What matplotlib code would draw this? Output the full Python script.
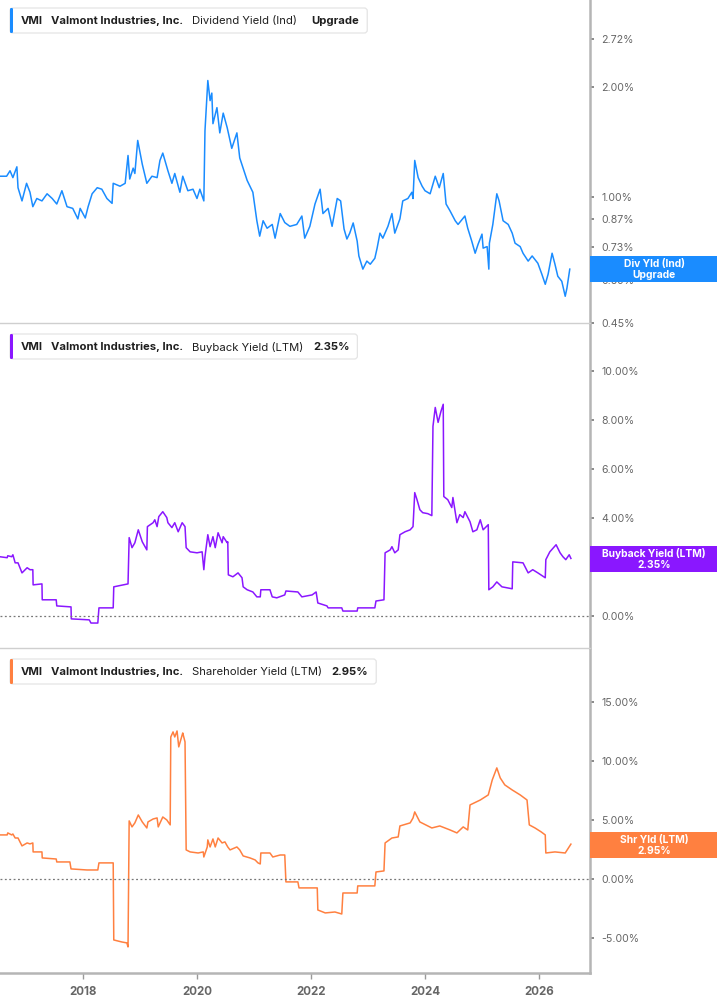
import matplotlib
matplotlib.use("Agg")
import matplotlib.pyplot as plt
from matplotlib.patches import FancyBboxPatch, Rectangle
from matplotlib.ticker import FixedLocator, NullLocator, FuncFormatter
from matplotlib.transforms import IdentityTransform

# ---------------- data (decimal years, percent) ----------------
div_years = [
    2016.54, 2016.66, 2016.72, 2016.77, 2016.84, 2016.86, 2016.93, 2017.01, 2017.07, 2017.12,
    2017.19, 2017.28, 2017.37, 2017.46, 2017.54, 2017.63, 2017.72, 2017.82, 2017.91, 2017.95,
    2018.04, 2018.09, 2018.16, 2018.25, 2018.33, 2018.42, 2018.51, 2018.53, 2018.65, 2018.74,
    2018.79, 2018.82, 2018.88, 2018.91, 2018.96, 2019.04, 2019.12, 2019.21, 2019.30, 2019.35,
    2019.40, 2019.49, 2019.56, 2019.61, 2019.70, 2019.75, 2019.84, 2019.93, 2020.00, 2020.05,
    2020.12, 2020.14, 2020.19, 2020.23, 2020.26, 2020.28, 2020.35, 2020.40, 2020.46, 2020.53,
    2020.61, 2020.70, 2020.75, 2020.88, 2020.98, 2021.05, 2021.10, 2021.16, 2021.23, 2021.32,
    2021.37, 2021.46, 2021.54, 2021.63, 2021.75, 2021.84, 2021.89, 2021.98, 2022.07, 2022.16,
    2022.21, 2022.30, 2022.37, 2022.46, 2022.52, 2022.58, 2022.63, 2022.68, 2022.74, 2022.81,
    2022.84, 2022.91, 2022.98, 2023.04, 2023.12, 2023.16, 2023.21, 2023.26, 2023.35, 2023.42,
    2023.47, 2023.56, 2023.61, 2023.70, 2023.77, 2023.79, 2023.82, 2023.88, 2023.95, 2024.00,
    2024.09, 2024.18, 2024.25, 2024.32, 2024.37, 2024.44, 2024.53, 2024.58, 2024.70, 2024.75,
    2024.82, 2024.88, 2024.93, 2025.00, 2025.02, 2025.09, 2025.12, 2025.13, 2025.19, 2025.26,
    2025.30, 2025.37, 2025.46, 2025.53, 2025.58, 2025.67, 2025.72, 2025.81, 2025.88, 2025.98,
    2026.05, 2026.11, 2026.16, 2026.23, 2026.28, 2026.33, 2026.40, 2026.46, 2026.49, 2026.54,
]
div_yield = [
    1.14, 1.14, 1.18, 1.13, 1.21, 1.06, 0.975, 1.09, 1.03, 0.94,
    0.99, 0.975, 1.02, 0.99, 0.956, 1.04, 0.94, 0.93, 0.87, 0.93,
    0.875, 0.94, 1.02, 1.06, 1.05, 0.99, 0.96, 1.09, 1.07, 1.09,
    1.30, 1.12, 1.20, 1.16, 1.43, 1.23, 1.09, 1.14, 1.13, 1.26,
    1.32, 1.18, 1.09, 1.16, 1.03, 1.14, 1.04, 1.05, 0.99, 1.05,
    0.975, 1.52, 2.09, 1.84, 1.93, 1.59, 1.76, 1.50, 1.70, 1.55,
    1.36, 1.50, 1.28, 1.11, 1.03, 0.86, 0.78, 0.86, 0.82, 0.84,
    0.77, 0.90, 0.85, 0.83, 0.84, 0.886, 0.77, 0.83, 0.956, 1.05,
    0.90, 0.93, 0.83, 0.99, 0.975, 0.816, 0.766, 0.795, 0.848, 0.756,
    0.688, 0.633, 0.666, 0.653, 0.678, 0.723, 0.795, 0.77, 0.83, 0.90,
    0.795, 0.87, 0.975, 0.99, 1.03, 0.99, 1.26, 1.13, 1.07, 1.04,
    1.02, 1.14, 1.06, 1.16, 0.956, 0.915, 0.86, 0.84, 0.886, 0.82,
    0.756, 0.70, 0.74, 0.79, 0.723, 0.73, 0.633, 0.746, 0.84, 1.02,
    0.975, 0.86, 0.84, 0.795, 0.746, 0.73, 0.70, 0.666, 0.688, 0.657,
    0.613, 0.575, 0.613, 0.70, 0.653, 0.605, 0.586, 0.533, 0.561, 0.633,
]

bb_years = [
    2016.54, 2016.67, 2016.68, 2016.75, 2016.77, 2016.81, 2016.86, 2016.93, 2017.02, 2017.07,
    2017.12, 2017.125, 2017.28, 2017.285, 2017.53, 2017.54, 2017.79, 2017.795, 2018.11, 2018.14,
    2018.26, 2018.28, 2018.53, 2018.54, 2018.79, 2018.81, 2018.86, 2018.91, 2018.97, 2019.04,
    2019.12, 2019.13, 2019.23, 2019.26, 2019.30, 2019.33, 2019.40, 2019.47, 2019.49, 2019.56,
    2019.61, 2019.67, 2019.74, 2019.79, 2019.81, 2019.88, 2020.00, 2020.09, 2020.12, 2020.14,
    2020.19, 2020.23, 2020.28, 2020.32, 2020.37, 2020.44, 2020.46, 2020.53, 2020.54, 2020.55,
    2020.63, 2020.72, 2020.79, 2020.81, 2020.88, 2020.98, 2021.05, 2021.11, 2021.12, 2021.28,
    2021.32, 2021.40, 2021.54, 2021.56, 2021.77, 2021.84, 2022.02, 2022.09, 2022.12, 2022.28,
    2022.30, 2022.54, 2022.56, 2022.81, 2022.82, 2023.12, 2023.14, 2023.28, 2023.30, 2023.39,
    2023.42, 2023.47, 2023.53, 2023.56, 2023.65, 2023.74, 2023.79, 2023.82, 2023.86, 2023.91,
    2023.96, 2024.05, 2024.12, 2024.14, 2024.18, 2024.23, 2024.28, 2024.32, 2024.33, 2024.40,
    2024.47, 2024.49, 2024.56, 2024.61, 2024.67, 2024.70, 2024.79, 2024.84, 2024.91, 2024.97,
    2025.02, 2025.11, 2025.12, 2025.19, 2025.26, 2025.35, 2025.53, 2025.54, 2025.72, 2025.81,
    2025.89, 2025.98, 2026.11, 2026.12, 2026.19, 2026.30, 2026.37, 2026.42, 2026.47, 2026.53,
    2026.56,
]
bb_yield = [
    2.42, 2.38, 2.46, 2.42, 2.50, 2.17, 2.17, 1.76, 1.97, 1.89,
    1.89, 1.27, 1.31, 0.66, 0.66, 0.41, 0.37, -0.12, -0.16, -0.29,
    -0.29, 0.33, 0.33, 1.19, 1.31, 3.20, 2.79, 2.99, 3.52, 3.03,
    2.70, 3.65, 3.81, 3.93, 3.65, 4.06, 4.26, 4.02, 3.81, 3.61,
    3.81, 3.44, 3.81, 3.65, 2.79, 2.62, 2.58, 2.62, 1.89, 2.42,
    3.32, 2.83, 3.24, 2.79, 3.40, 2.99, 3.24, 2.99, 3.03, 1.68,
    1.60, 1.76, 1.56, 1.19, 1.07, 0.98, 0.78, 0.78, 1.07, 1.07,
    0.78, 0.74, 0.86, 1.02, 0.98, 0.78, 0.86, 0.98, 0.53, 0.41,
    0.33, 0.33, 0.20, 0.20, 0.33, 0.33, 0.61, 0.66, 2.58, 2.70,
    2.83, 2.58, 2.70, 3.32, 3.44, 3.52, 3.65, 5.04, 4.75, 4.34,
    4.22, 4.18, 4.10, 7.75, 8.52, 7.91, 8.36, 8.65, 4.88, 4.75,
    4.43, 4.84, 3.81, 4.14, 4.02, 4.26, 3.85, 3.44, 3.52, 3.93,
    3.52, 3.73, 1.07, 1.19, 1.39, 1.19, 1.11, 2.21, 2.17, 1.76,
    1.89, 1.76, 1.56, 2.30, 2.62, 2.91, 2.58, 2.42, 2.30, 2.50,
    2.35,
]

shr_years = [
    2016.54, 2016.67, 2016.68, 2016.75, 2016.77, 2016.81, 2016.86, 2016.93, 2017.02, 2017.07,
    2017.12, 2017.125, 2017.28, 2017.285, 2017.53, 2017.54, 2017.77, 2017.79, 2018.07, 2018.26,
    2018.28, 2018.53, 2018.54, 2018.68, 2018.77, 2018.79, 2018.81, 2018.86, 2018.91, 2018.97,
    2019.04, 2019.12, 2019.14, 2019.23, 2019.30, 2019.32, 2019.40, 2019.47, 2019.53, 2019.54,
    2019.58, 2019.61, 2019.65, 2019.68, 2019.74, 2019.75, 2019.79, 2019.81, 2019.88, 2020.02,
    2020.11, 2020.12, 2020.18, 2020.19, 2020.23, 2020.28, 2020.32, 2020.37, 2020.44, 2020.49,
    2020.54, 2020.58, 2020.70, 2020.75, 2020.81, 2020.93, 2021.02, 2021.07, 2021.11, 2021.12,
    2021.28, 2021.33, 2021.46, 2021.54, 2021.56, 2021.77, 2021.79, 2022.11, 2022.12, 2022.25,
    2022.42, 2022.54, 2022.56, 2022.81, 2022.82, 2023.12, 2023.14, 2023.28, 2023.30, 2023.42,
    2023.53, 2023.56, 2023.74, 2023.79, 2023.82, 2023.91, 2024.05, 2024.12, 2024.26, 2024.44,
    2024.56, 2024.67, 2024.75, 2024.79, 2024.97, 2025.11, 2025.18, 2025.26, 2025.32, 2025.40,
    2025.53, 2025.67, 2025.79, 2025.83, 2025.93, 2026.04, 2026.11, 2026.12, 2026.28, 2026.46,
    2026.54, 2026.56,
]
shr_yield = [
    3.73, 3.73, 3.90, 3.73, 3.81, 3.47, 3.47, 2.80, 3.05, 2.97,
    3.05, 2.29, 2.29, 1.78, 1.69, 1.44, 1.44, 0.85, 0.76, 0.76,
    1.36, 1.36, -5.17, -5.34, -5.42, -5.76, 4.92, 4.41, 4.75, 5.42,
    4.83, 4.32, 4.83, 5.08, 5.17, 4.41, 5.25, 5.00, 4.58, 12.03,
    12.46, 12.03, 12.54, 11.19, 12.20, 12.37, 11.61, 2.46, 2.29, 2.20,
    2.29, 1.86, 2.71, 3.31, 2.71, 3.39, 2.71, 3.47, 3.05, 3.14,
    2.71, 2.46, 2.71, 2.46, 1.95, 1.78, 1.61, 1.36, 1.27, 2.20,
    2.20, 1.86, 2.03, 2.03, -0.25, -0.25, -0.76, -0.76, -2.63, -2.88,
    -2.80, -2.97, -1.19, -1.19, -0.59, -0.59, 0.59, 0.68, 3.05, 3.47,
    3.56, 4.49, 4.75, 5.17, 5.68, 4.83, 4.49, 4.32, 4.49, 4.15,
    3.90, 4.41, 4.15, 6.27, 6.69, 7.12, 8.39, 9.41, 8.56, 7.97,
    7.54, 7.12, 6.69, 4.58, 4.32, 3.98, 3.73, 2.20, 2.29, 2.20,
    2.80, 2.95,
]

div_ticks = [0.45, 0.59, 0.73, 0.87, 1.00, 2.00, 2.72]
bb_ticks = [0, 2, 4, 6, 8, 10]
shr_ticks = [-5, 0, 5, 10, 15]
year_ticks = [2018, 2020, 2022, 2024, 2026]
year_labels = ["2018", "2020", "2022", "2024", "2026"]

company = "Valmont Industries, Inc."
ticker = "VMI"

# ---------------- layout ----------------
W, H = 717, 1005
plt.rcParams['font.family'] = ['Inter', 'DejaVu Sans']
fig = plt.figure(figsize=(W / 100, H / 100), dpi=100)
renderer = fig.canvas.get_renderer()

BLUE = '#1a8cff'
PURPLE = '#8a17ff'
ORANGE = '#ff8040'
AXIS_GREY = '#b5b5b5'
TICK_TXT = '#666666'

PLOT_RIGHT = 590
X0 = 2016.544
X1 = X0 + PLOT_RIGHT / 57.0


def make_ax(top, bot):
    return fig.add_axes([0, 1 - bot / H, PLOT_RIGHT / W, (bot - top) / H])


def style_ax(ax, last=False):
    ax.set_facecolor('none')
    ax.spines['top'].set_visible(False)
    ax.spines['left'].set_visible(False)
    ax.spines['right'].set_color(AXIS_GREY)
    ax.spines['right'].set_linewidth(1.8)
    if last:
        ax.spines['bottom'].set_color(AXIS_GREY)
        ax.spines['bottom'].set_linewidth(1.8)
    else:
        ax.spines['bottom'].set_color('#cfcfcf')
        ax.spines['bottom'].set_linewidth(1.0)
    ax.yaxis.tick_right()
    ax.tick_params(axis='y', which='major', length=3, width=1.2, color='#777777',
                   labelsize=7.6, labelcolor=TICK_TXT, pad=5)
    ax.tick_params(axis='y', which='minor', length=0)
    ax.set_xlim(X0, X1)
    if last:
        ax.set_xticks(year_ticks)
        ax.set_xticklabels(year_labels, fontweight='bold')
        ax.tick_params(axis='x', length=4, width=1, color='#999999',
                       labelsize=8.3, labelcolor=TICK_TXT, pad=5)
    else:
        ax.set_xticks([])


pct = FuncFormatter(lambda v, p: f"{v:.2f}%")

# Panel 1: dividend yield (log scale)
ax1 = make_ax(0, 323)
ax1.plot(div_years, div_yield, color=BLUE, lw=1.1, solid_joinstyle='round')
ax1.set_yscale('log')
ax1.set_ylim(0.45, 3.48)
style_ax(ax1)
ax1.yaxis.set_major_locator(FixedLocator(div_ticks))
ax1.yaxis.set_minor_locator(NullLocator())
ax1.yaxis.set_major_formatter(pct)

# Panel 2: buyback yield
ax2 = make_ax(325, 648)
ax2.plot(bb_years, bb_yield, color=PURPLE, lw=1.1, solid_joinstyle='round')
ax2.axhline(0, color='#777777', lw=0.9, ls=(0, (1.5, 2.0)))
ax2.set_ylim(-1.31, 11.89)
style_ax(ax2)
ax2.yaxis.set_major_locator(FixedLocator(bb_ticks))
ax2.yaxis.set_major_formatter(pct)

# Panel 3: shareholder yield
ax3 = make_ax(650, 973)
ax3.plot(shr_years, shr_yield, color=ORANGE, lw=1.1, solid_joinstyle='round')
ax3.axhline(0, color='#777777', lw=0.9, ls=(0, (1.5, 2.0)))
ax3.set_ylim(-7.97, 19.4)
style_ax(ax3, last=True)
ax3.yaxis.set_major_locator(FixedLocator(shr_ticks))
ax3.yaxis.set_major_formatter(pct)


# ---------------- title boxes ----------------
def title_box(box_top, box_bot, color, segments):
    yc = (box_top + box_bot) / 2.0 + 0.5
    x = 20.5
    right = x
    for txt, weight, gap in segments:
        t = fig.text(x / W, 1 - yc / H, txt, fontsize=8.1, fontweight=weight,
                     color='#1f1f1f', ha='left', va='center', zorder=6)
        bb = t.get_window_extent(renderer)
        right = x + bb.width
        x = right + gap
    bw = right + 8 - 10
    box = FancyBboxPatch((10, H - box_bot), bw, box_bot - box_top,
                         boxstyle="round,pad=0,rounding_size=3",
                         transform=IdentityTransform(), facecolor='white',
                         edgecolor='#e4e4e4', lw=0.9, zorder=4)
    fig.add_artist(box)
    bar = FancyBboxPatch((10, H - box_bot), 3, box_bot - box_top,
                         boxstyle="round,pad=0,rounding_size=1.2",
                         transform=IdentityTransform(), facecolor=color,
                         edgecolor='none', zorder=5)
    fig.add_artist(bar)


title_box(8, 33, BLUE, [(ticker, 'bold', 9), (company, 'bold', 9),
                        ("Dividend Yield (Ind)", 'normal', 14), ("Upgrade", 'bold', 0)])
title_box(334, 359, PURPLE, [(ticker, 'bold', 9), (company, 'bold', 9),
                             ("Buyback Yield (LTM)", 'normal', 9), ("2.35%", 'bold', 0)])
title_box(659, 684, ORANGE, [(ticker, 'bold', 9), (company, 'bold', 9),
                             ("Shareholder Yield (LTM)", 'normal', 9), ("2.95%", 'bold', 0)])


# ---------------- right value labels ----------------
def value_label(top, bot, color, line1, line2):
    r = Rectangle((PLOT_RIGHT, H - bot), W - PLOT_RIGHT, bot - top,
                  transform=IdentityTransform(), facecolor=color, edgecolor='none', zorder=4)
    fig.add_artist(r)
    xc = 654
    fig.text(xc / W, 1 - (top + 7.5) / H, line1, fontsize=7.4, fontweight='bold',
             color='white', ha='center', va='center', zorder=6)
    fig.text(xc / W, 1 - (top + 18.5) / H, line2, fontsize=7.4, fontweight='bold',
             color='white', ha='center', va='center', zorder=6)


value_label(256, 282, BLUE, "Div Yld (Ind)", "Upgrade")
value_label(546, 572, PURPLE, "Buyback Yield (LTM)", "2.35%")
value_label(832, 858, ORANGE, "Shr Yld (LTM)", "2.95%")

fig.savefig('out.png', dpi=100, facecolor='white')
